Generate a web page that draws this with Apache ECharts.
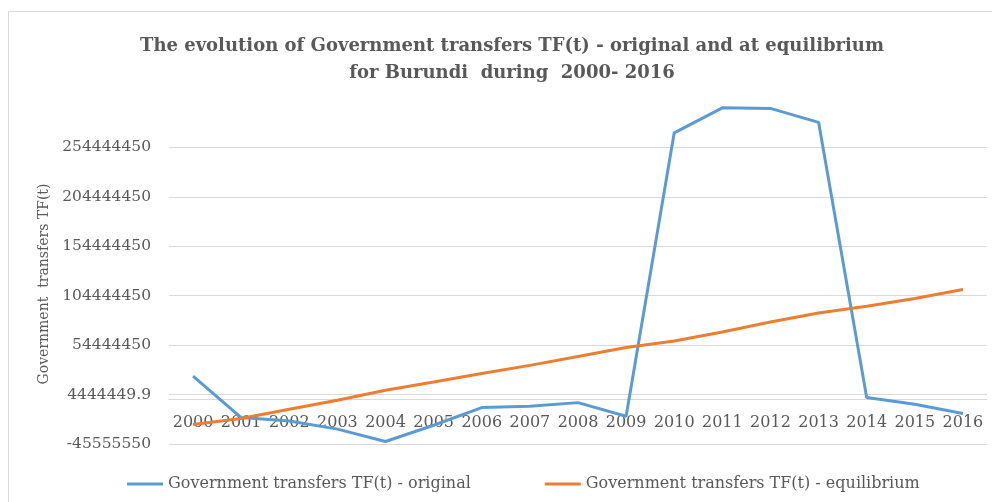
<!DOCTYPE html>
<html>
<head>
<meta charset="utf-8">
<script src="https://cdn.jsdelivr.net/npm/echarts@6/dist/echarts.min.js"></script>
<style>
  html, body { margin: 0; padding: 0; background: #fff; }
  #main { width: 992px; height: 502px; }
</style>
</head>
<body>
<div id="main"></div>
<script>
var years = ['2000', '2001', '2002', '2003', '2004', '2005', '2006', '2007', '2008',
    '2009', '2010', '2011', '2012', '2013', '2014', '2015', '2016'];
// valeurs
var original = [23000000, -18800000, -22300000, -30500000, -43000000, -26600000, -8700000,
    -7400000, -3700000, -17500000, 269200000, 294500000, 293900000, 279800000,
    1400000, -5400000, -14800000];
var equilibrium = [-25900000, -19800000, -10400000, -1300000, 8800000, 17200000, 25700000,
    34000000, 43000000, 52000000, 58700000, 67800000, 77900000, 87000000,
    93800000, 101600000, 110700000];
var yTicks = [-45555550, 4444449.9, 54444450, 104444450, 154444450, 204444450, 254444450];
var yMin = -45555550, yMax = 304444450;

var chart = echarts.init(document.getElementById('main'));
var serif = '"DejaVu Serif", "Liberation Serif", serif';

// la ligne des catégories croise l'axe Y à zéro (comme dans Excel)
var gridTop = 98, gridBottom = 58;
var plotH = 502 - gridTop - gridBottom;
var zeroOffset = -Math.round((0 - yMin) / (yMax - yMin) * plotH);

var option = {
    backgroundColor: '#fff',
    animation: false,
    textStyle: { fontFamily: serif },
    title: {
        text: 'The evolution of Government transfers TF(t) - original and at equilibrium\nfor Burundi  during  2000- 2016',
        left: 507,
        top: 28,
        textAlign: 'center',
        textStyle: {
            fontFamily: serif,
            fontSize: 18,
            fontWeight: 'bold',
            color: '#595959',
            lineHeight: 27
        }
    },
    graphic: [{
        type: 'rect',
        shape: { x: 8.5, y: 11.5, width: 990, height: 495 },
        style: { fill: null, stroke: '#d9d9d9', lineWidth: 1 },
        silent: true
    }],
    legend: {
        bottom: 5,
        left: 122,
        itemGap: 74,
        itemWidth: 36,
        itemHeight: 3,
        icon: 'rect',
        textStyle: { fontFamily: serif, fontSize: 16, color: '#595959' },
        data: ['Government transfers TF(t) - original', 'Government transfers TF(t) - equilibrium']
    },
    grid: { left: 169, right: 5, top: gridTop, bottom: gridBottom },
    xAxis: {
        type: 'category',
        data: years,
        boundaryGap: true,
        offset: zeroOffset,
        axisLine: { onZero: false, lineStyle: { color: '#d9d9d9', width: 1 } },
        axisTick: { show: false },
        axisLabel: { fontFamily: serif, fontSize: 16, color: '#595959', margin: 16, interval: 0 }
    },
    yAxis: {
        type: 'value',
        min: yMin,
        max: yMax,
        name: 'Government  transfers TF(t)',
        nameLocation: 'middle',
        nameGap: 118,
        nameTextStyle: { fontFamily: serif, fontSize: 14, color: '#595959', padding: [0, 26, 0, 0] },
        axisLine: { show: false },
        axisTick: { show: false, customValues: yTicks },
        axisLabel: {
            customValues: yTicks,
            fontFamily: serif,
            fontSize: 15.5,
            color: '#595959',
            margin: 18,
            formatter: function (v) { return String(v); }
        },
        splitLine: { show: true, lineStyle: { color: '#d9d9d9', width: 1 } }
    },
    series: [{
        name: 'Government transfers TF(t) - original',
        type: 'line',
        data: original,
        symbol: 'none',
        lineStyle: { color: '#5b9bd5', width: 3 },
        itemStyle: { color: '#5b9bd5' }
    }, {
        name: 'Government transfers TF(t) - equilibrium',
        type: 'line',
        data: equilibrium,
        symbol: 'none',
        lineStyle: { color: '#ed7d31', width: 3 },
        itemStyle: { color: '#ed7d31' }
    }]
};
chart.setOption(option);
</script>
</body>
</html>
